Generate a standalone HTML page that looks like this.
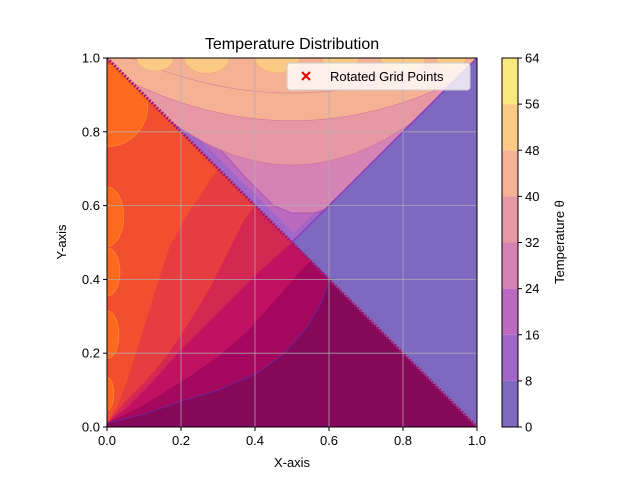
<!DOCTYPE html>
<html><head><meta charset="utf-8"><style>
body{margin:0;background:#fff}
svg{display:block;font-family:"Liberation Sans","DejaVu Sans",sans-serif}
</style></head><body>
<svg id="chart" width="640" height="480" viewBox="0 0 640 480" xmlns="http://www.w3.org/2000/svg">
<defs>
<clipPath id="plotclip"><rect x="107" y="58" width="370" height="369"/></clipPath>
</defs>
<g id="plot" clip-path="url(#plotclip)"></g>
<g id="grid"></g>
<rect x="107" y="58" width="370" height="369" fill="none" stroke="#000" stroke-width="1"/>
<g id="axes"></g>
<text x="292" y="49" font-size="16" text-anchor="middle">Temperature Distribution</text>
<text x="292" y="467" font-size="13" text-anchor="middle">X-axis</text>
<text x="66" y="242" font-size="13" text-anchor="middle" transform="rotate(-90 66 242)">Y-axis</text>
<g>
<rect x="287" y="63" width="183" height="27" rx="3" fill="#fff" fill-opacity="0.8" stroke="#ccc"/>
<g stroke="#e00" stroke-width="2"><line x1="302" y1="72" x2="310" y2="80"/><line x1="310" y1="72" x2="302" y2="80"/></g>
<text x="330" y="81" font-size="13">Rotated Grid Points</text>
</g>
<g id="cbar"></g>
<text x="564" y="242" font-size="13" text-anchor="middle" transform="rotate(-90 564 242)">Temperature θ</text>
</svg>
<script>
const levels=[0,8,16,24,32,40,48,56,64];
const levelColors=["#7f68bf","#a066c8","#bc6ac0","#d582b5","#e698a4","#f4b194","#fbcb85","#f9e87b"];
const xTicks=[0,0.2,0.4,0.6,0.8,1.0];
const yTicks=[0,0.2,0.4,0.6,0.8,1.0];
// left-region band boundaries (data coords), darkest first
const leftBandColors=["#a3075e","#c01260","#d42752","#e63d40","#f24e30"];
const curveB5=[[0,0.01],[0.1,0.035],[0.2,0.07],[0.3,0.1],[0.405,0.146],[0.48,0.2],[0.54,0.27],[0.58,0.34],[0.6,0.4]];
const curveB4=[[0,0.01],[0.1,0.06],[0.22,0.135],[0.3,0.19],[0.38,0.26],[0.46,0.35],[0.52,0.42],[0.55,0.45]];
const curveB3=[[0,0.01],[0.05,0.05],[0.12,0.12],[0.21,0.22],[0.3,0.31],[0.41,0.42],[0.5,0.5]];
const curveB2=[[0,0.01],[0.05,0.07],[0.1,0.12],[0.16,0.19],[0.22,0.28],[0.28,0.38],[0.33,0.48],[0.37,0.56],[0.4,0.6]];
const curveB1=[[0,0.01],[0.03,0.06],[0.06,0.14],[0.1,0.27],[0.14,0.4],[0.17,0.49],[0.22,0.58],[0.3,0.7]];
const leftCurves=[curveB5,curveB4,curveB3,curveB2,curveB1];
// orange hot spots along the left edge: [yCenter, rx, ry]
const hotSpots=[[0.09,0.018,0.045],[0.25,0.032,0.065],[0.42,0.035,0.065],[0.57,0.045,0.08],[0.87,0.11,0.11]];
// top-region contour 16/24 boundary (points), then U-shaped contours: [vertex y, curvature, color above]
const curve16_24=[[0,1.0],[0.1,0.92],[0.2,0.84],[0.3,0.76],[0.38,0.67],[0.45,0.6],[0.5,0.58],[0.56,0.58],[0.62,0.6],[0.7,0.66]];
const uCurves=[[0.71,1.1,"#e698a4"],[0.83,0.55,"#f4b194"],[0.905,0.5,"#f4b194"]];
const topBubbles=[[0.13,0.05,0.022],[0.27,0.06,0.026],[0.46,0.06,0.025],[0.63,0.05,0.02],[0.8,0.06,0.022],[0.93,0.04,0.018]];

const X=v=>107+370*v, Y=v=>427-369*v;
const NS="http://www.w3.org/2000/svg";
function mk(tag,attrs,parent){const e=document.createElementNS(NS,tag);for(const k in attrs)e.setAttribute(k,attrs[k]);parent.appendChild(e);return e;}
const plot=document.getElementById('plot');
const pts=a=>a.map(p=>X(p[0]).toFixed(1)+','+Y(p[1]).toFixed(1)).join(' ');

let e=mk('polygon',{points:pts([[0,0],[1,0],[0,1]]),fill:"#86085a"},plot);

e=mk('polygon',{points:pts([[1,0],[1,1],[0.5,0.5]]),fill:levelColors[0]},plot);

leftCurves.forEach((c,i)=>{
  const poly=c.concat([[0,1],[0,0]]);
  const el=mk('polygon',{points:pts(poly),fill:leftBandColors[i],stroke:i==0?"#6a2aa0":"none","stroke-width":0.8},plot);
  
  
});
hotSpots.forEach((h,i)=>{
  const el=mk('ellipse',{cx:X(0),cy:Y(h[0]),rx:370*h[1],ry:369*h[2],fill:"#fc6a1f",stroke:"#f98a2a","stroke-width":0.8},plot);
  
  
});
const topClip=mk('clipPath',{id:'topclip'},document.querySelector('defs'));
mk('polygon',{points:pts([[0,1],[1,1],[0.5,0.5]])},topClip);
const topG=mk('g',{'clip-path':'url(#topclip)'},plot);


e=mk('polygon',{points:pts([[0,1],[1,1],[0.5,0.5]]),fill:levelColors[1]},topG);

e=mk('polygon',{points:pts([[0.03,1],[0.985,1],[0.505,0.525]]),fill:levelColors[2]},topG);

e=mk('polygon',{points:pts(curve16_24.concat([[1,1.05],[0,1.05]])),fill:levelColors[3],stroke:"#a050b0","stroke-width":0.7},topG);

uCurves.forEach((u,i)=>{
  const p=[];for(let k=0;k<=40;k++){const x=k/40;p.push([x,u[0]+u[1]*(x-0.5)*(x-0.5)]);}
  p.push([1,1.05],[0,1.05]);
  const el=mk('polygon',{points:pts(p),fill:u[2],stroke:"#c85a9a","stroke-width":0.6,"stroke-opacity":0.6},topG);
  
  
});
topBubbles.forEach(b=>{
  const el=mk('ellipse',{cx:X(b[0]),cy:Y(1),rx:370*b[1],ry:369*b[2]*1.6,fill:"#fbcb85",stroke:"#f5a878","stroke-width":0.6},topG);
  
  
});
e=mk('line',{x1:X(0),y1:Y(1),x2:X(1),y2:Y(0),stroke:"#a0186e","stroke-width":3,"stroke-dasharray":"2 1.5"},plot);

e=mk('line',{x1:X(0.5),y1:Y(0.5),x2:X(1),y2:Y(1),stroke:"#8a3cc0","stroke-width":1.5},plot);


const grid=document.getElementById('grid');
xTicks.slice(1,-1).forEach(t=>{const l=mk('line',{x1:X(t),y1:Y(0),x2:X(t),y2:Y(1),stroke:"#b0b0b0","stroke-width":0.8,"stroke-opacity":0.9},grid);

});
yTicks.slice(1,-1).forEach(t=>{const l=mk('line',{x1:X(0),y1:Y(t),x2:X(1),y2:Y(t),stroke:"#b0b0b0","stroke-width":0.8,"stroke-opacity":0.9},grid);

});

const axes=document.getElementById('axes');
xTicks.forEach(t=>{
  mk('line',{x1:X(t),y1:427,x2:X(t),y2:431,stroke:"#000"},axes);
  const tx=mk('text',{x:X(t),y:445,'font-size':13,'text-anchor':'middle'},axes);
  tx.textContent=t.toFixed(1);
  
  
});
yTicks.forEach(t=>{
  mk('line',{x1:103,y1:Y(t),x2:107,y2:Y(t),stroke:"#000"},axes);
  const tx=mk('text',{x:100,y:Y(t)+4.5,'font-size':13,'text-anchor':'end'},axes);
  tx.textContent=t.toFixed(1);
  
  
});

const cb=document.getElementById('cbar');
const CY=v=>427-369*(v-levels[0])/(levels[levels.length-1]-levels[0]);
for(let i=0;i<levelColors.length;i++){
  const r=mk('rect',{x:502,y:CY(levels[i+1]),width:16,height:CY(levels[i])-CY(levels[i+1]),fill:levelColors[i]},cb);
  
  
}
mk('rect',{x:502,y:58,width:16,height:369,fill:'none',stroke:'#000','stroke-width':1},cb);
levels.forEach(l=>{
  mk('line',{x1:518,y1:CY(l),x2:522,y2:CY(l),stroke:'#000'},cb);
  const tx=mk('text',{x:525,y:CY(l)+4.5,'font-size':13},cb);
  tx.textContent=l;
  
  
});
</script>
</body></html>
